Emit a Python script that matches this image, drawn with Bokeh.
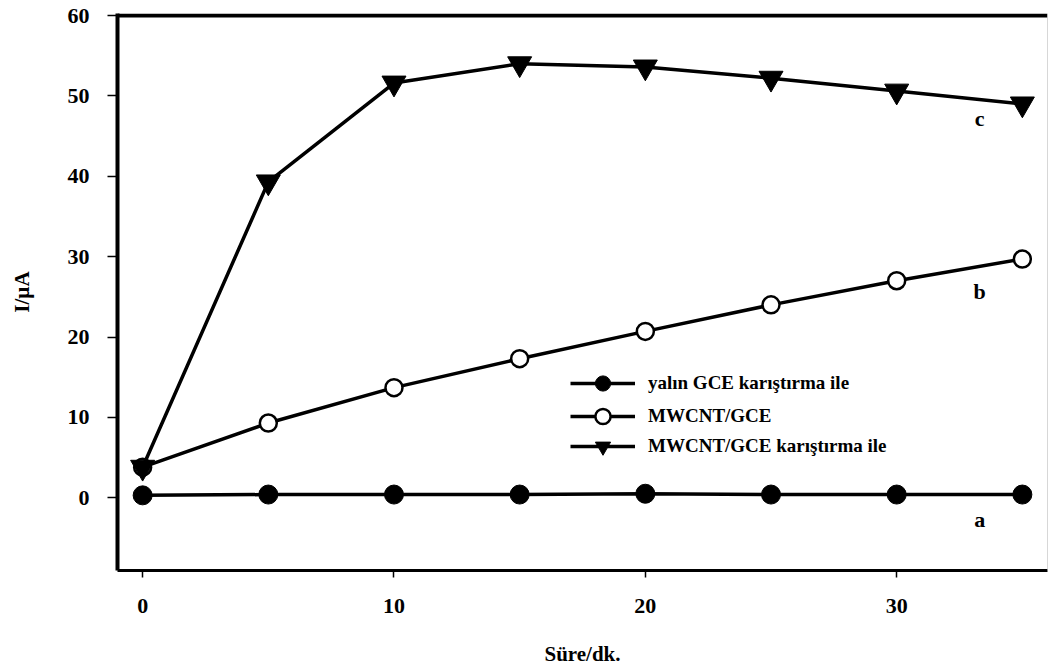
from bokeh.plotting import figure
from bokeh.models import Range1d, Span, Legend, LegendItem, FixedTicker, Label
from bokeh.embed import file_html
from bokeh.resources import INLINE

# time (min) and peak current (µA) for the three electrodes
time_min = [0, 5, 10, 15, 20, 25, 30, 35]
bare_gce_stirred = [0.3, 0.4, 0.4, 0.4, 0.5, 0.4, 0.4, 0.4]
mwcnt_gce = [3.8, 9.3, 13.7, 17.3, 20.7, 24.0, 27.0, 29.7]
mwcnt_gce_stirred = [3.8, 39.3, 51.6, 54.0, 53.6, 52.2, 50.6, 49.0]

series_names = ["yalın GCE karıştırma ile", "MWCNT/GCE", "MWCNT/GCE karıştırma ile"]
curve_tags = ["a", "b", "c"]

x_ticks = [0, 10, 20, 30]
y_ticks = [0, 10, 20, 30, 40, 50, 60]

FONT = "Liberation Serif"

p = figure(width=1048, height=672, output_backend="svg", toolbar_location=None,
           x_range=Range1d(-1, 36), y_range=Range1d(-9.05, 60.25),
           min_border_left=117, min_border_right=1, min_border_top=13, min_border_bottom=102)
p.outline_line_color = None
p.grid.visible = False
p.background_fill_color = "white"
p.border_fill_color = "white"

# axes
for ax in (p.xaxis[0], p.yaxis[0]):
    ax.major_label_text_font = FONT
    ax.major_label_text_font_style = "bold"
    ax.major_label_text_font_size = "22px"
    ax.major_label_text_color = "black"
    ax.axis_label_text_font = FONT
    ax.axis_label_text_font_style = "bold"
    ax.axis_label_text_font_size = "21px"
    ax.axis_label_text_color = "black"
    ax.minor_tick_line_color = None
    ax.major_tick_in = 0
    ax.major_tick_line_color = "black"
    ax.major_tick_line_width = 1.5
    ax.axis_line_color = "black"

p.yaxis[0].ticker = FixedTicker(ticks=y_ticks)
p.yaxis[0].axis_line_width = 4
p.yaxis[0].major_tick_out = 10
p.yaxis[0].major_label_standoff = 18
p.yaxis[0].axis_label = "I/µA"
p.yaxis[0].axis_label_standoff = 31

p.xaxis[0].ticker = FixedTicker(ticks=x_ticks)
p.xaxis[0].axis_line_width = 3
p.xaxis[0].major_tick_out = 7
p.xaxis[0].major_label_standoff = 21
p.xaxis[0].axis_label = "Süre/dk."
p.xaxis[0].axis_label_standoff = 26

# frame: heavy top rule and light right edge
p.add_layout(Span(location=60, dimension="width", line_color="black", line_width=4))
p.add_layout(Span(location=36, dimension="height", line_color="#b0b0b0", line_width=1))

lw = 3.5
la = p.line(time_min, bare_gce_stirred, line_color="black", line_width=lw)
sa = p.scatter(time_min, bare_gce_stirred, marker="circle", size=19,
               fill_color="black", line_color="black")
lb = p.line(time_min, mwcnt_gce, line_color="black", line_width=lw)
sb = p.scatter(time_min, mwcnt_gce, marker="circle", size=17,
               fill_color="white", line_color="black", line_width=2.5)
lc = p.line(time_min, mwcnt_gce_stirred, line_color="black", line_width=lw)
sc = p.scatter(time_min, mwcnt_gce_stirred, marker="inverted_triangle", size=24,
               fill_color="black", line_color="black")

# curve tags a, b, c next to the last points
tag_x = [33.3, 33.3, 33.3]
tag_y = [-2.7, 25.7, 47.2]
for t, tx, ty in zip(curve_tags, tag_x, tag_y):
    p.add_layout(Label(x=tx, y=ty, text=t, text_font=FONT, text_font_style="bold",
                       text_font_size="22px", text_color="black",
                       text_align="center", text_baseline="middle"))

# one single-row legend per series, stacked closely
legend_rows = [(la, sa, 168), (lb, sb, 135), (lc, sc, 105)]
for name, (line_r, mark_r, off) in zip(series_names, legend_rows):
    lg = Legend(items=[LegendItem(label=name, renderers=[line_r, mark_r])],
                location=(453, off))
    lg.border_line_color = None
    lg.background_fill_alpha = 0
    lg.glyph_width = 65
    lg.glyph_height = 38
    lg.label_standoff = 13
    lg.padding = 0
    lg.margin = 0
    lg.label_text_font = FONT
    lg.label_text_font_style = "bold"
    lg.label_text_font_size = "19px"
    lg.label_text_color = "black"
    p.add_layout(lg)

open("out.html", "w").write(file_html(p, INLINE))
